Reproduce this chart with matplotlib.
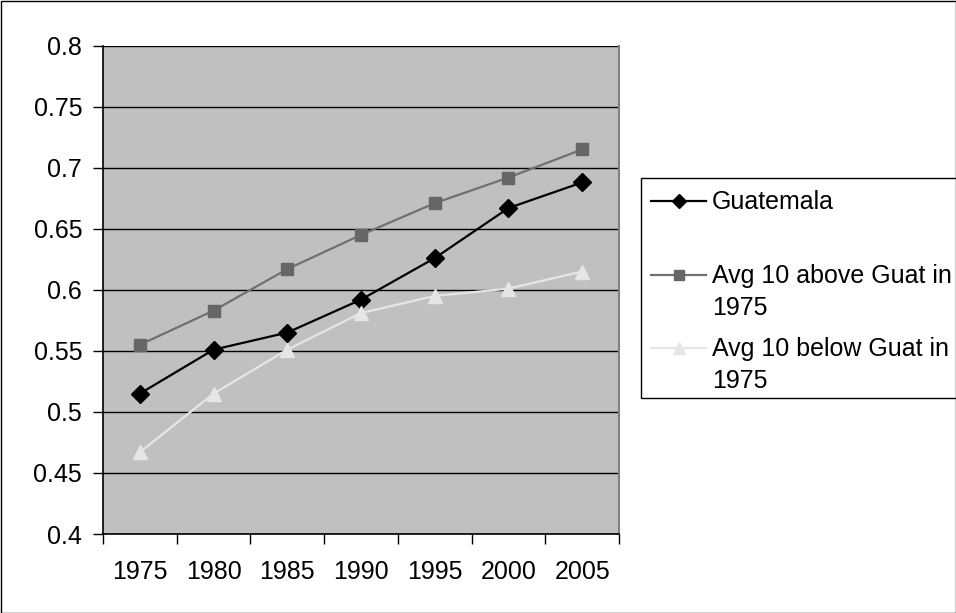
import matplotlib
matplotlib.use("Agg")
import matplotlib.pyplot as plt
from matplotlib.lines import Line2D
from matplotlib.patches import Rectangle

plt.rcParams["font.family"] = ["Liberation Sans", "DejaVu Sans"]

years = ["1975", "1980", "1985", "1990", "1995", "2000", "2005"]
guatemala = [0.515, 0.551, 0.565, 0.592, 0.626, 0.667, 0.688]
above_avg = [0.555, 0.583, 0.617, 0.645, 0.671, 0.692, 0.715]
below_avg = [0.467, 0.515, 0.551, 0.581, 0.595, 0.601, 0.615]

series = [
    ("Guatemala", guatemala, "#000000", "#000000", "D", 9.5),
    ("Avg 10 above Guat in\n1975", above_avg, "#707070", "#666666", "s", 9),
    ("Avg 10 below Guat in\n1975", below_avg, "#e6e6e6", "#e6e6e6", "^", 10.5),
]

W, H = 956, 613
FS = 18


def px(x, y):
    # pixel coords (top-left origin) -> figure fraction
    return x / W, 1 - y / H


fig = plt.figure(figsize=(W / 100, H / 100), dpi=100)
fig.patch.set_facecolor("white")
ax = fig.add_axes([103 / W, (H - 534) / H, (619 - 103) / W, (534 - 45.7) / H])
ax.set_facecolor("#c0c0c0")

xs = list(range(len(years)))
for label, vals, lc, mc, mk, ms in series:
    ax.plot(xs, vals, color=lc, lw=1.6, marker=mk, markersize=ms,
            markerfacecolor=mc, markeredgecolor=mc, zorder=3, clip_on=False)

ax.set_xlim(-0.5, len(years) - 0.5)
ax.set_ylim(0.4, 0.8)
ax.set_yticks([0.4 + 0.05 * i for i in range(9)])
ax.set_yticklabels(["0.4", "0.45", "0.5", "0.55", "0.6", "0.65", "0.7", "0.75", "0.8"])
ax.set_xticks(xs)
ax.set_xticklabels(years)
ax.set_xticks([i - 0.5 for i in range(len(years) + 1)], minor=True)
ax.tick_params(axis="x", which="major", length=0, pad=19, labelsize=FS)
ax.tick_params(axis="x", which="minor", length=7, width=1, color="black")
ax.tick_params(axis="y", length=7, width=1, pad=8, labelsize=FS)
ax.yaxis.grid(True, color="black", lw=1)
ax.set_axisbelow(True)

ax.spines["top"].set_visible(False)
ax.spines["right"].set_color("#808080")
ax.spines["right"].set_linewidth(1.5)
ax.spines["left"].set_linewidth(1.2)
ax.spines["bottom"].set_linewidth(1.2)

# legend box, drawn by hand so handles sit on the first text line
x0, y0 = px(641, 398)
x1, y1 = px(962, 178)
fig.add_artist(Rectangle((x0, y0), x1 - x0, y1 - y0, transform=fig.transFigure,
                         facecolor="white", edgecolor="black", lw=1))
row_y = [201, 275, 348]
for (label, vals, lc, mc, mk, ms), ry in zip(series, row_y):
    lx0, ly = px(651, ry)
    lx1, _ = px(706, ry)
    mx, _ = px(678.5, ry)
    fig.add_artist(Line2D([lx0, lx1], [ly, ly], transform=fig.transFigure,
                          color=lc, lw=1.6))
    fig.add_artist(Line2D([mx], [ly], transform=fig.transFigure, color=lc,
                          marker=mk, markersize=ms * 0.8,
                          markerfacecolor=mc, markeredgecolor=mc))
    tx, ty = px(712, ry - 11)
    fig.text(tx, ty, label, fontsize=FS, va="top", ha="left", linespacing=1.4)

# outer chart border
fig.add_artist(Rectangle((0.5 / W, 0.5 / H), (W - 1) / W, (H - 1) / H,
                         transform=fig.transFigure, fill=False,
                         edgecolor="black", lw=1))

fig.savefig("out.png", dpi=100)
